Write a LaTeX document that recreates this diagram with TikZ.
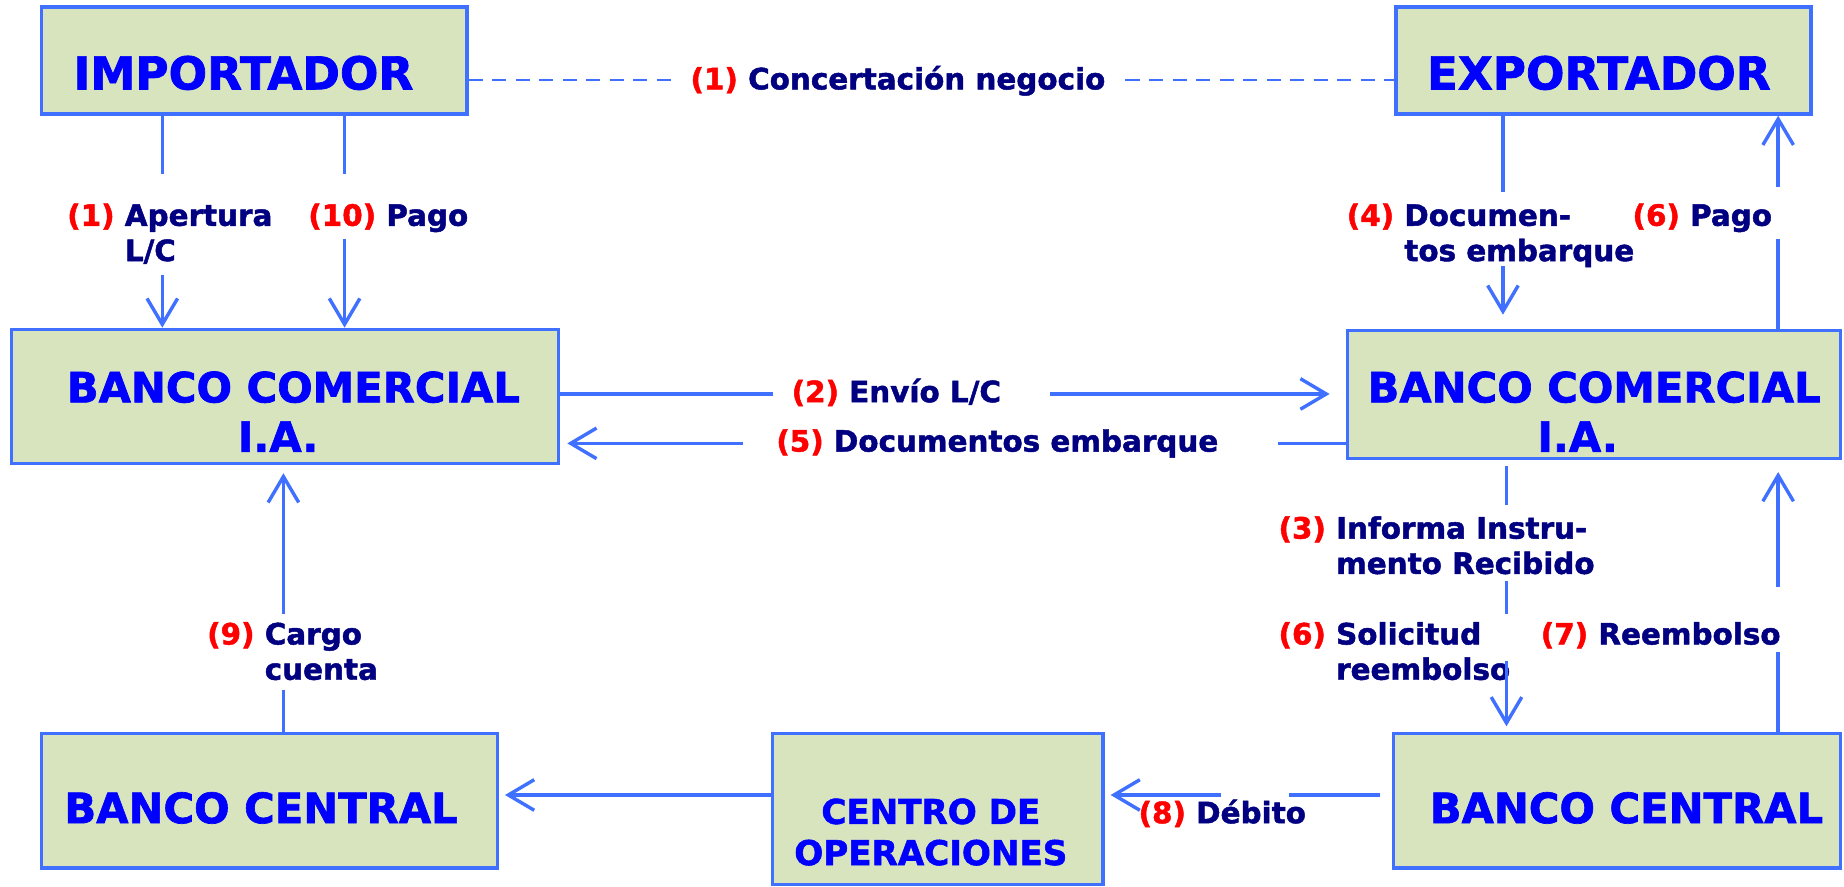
\documentclass[tikz,border=0pt]{standalone}
\usepackage{fontspec}
\setmainfont{DejaVu Sans}[BoldFeatures={FakeBold=1.6}]
\usetikzlibrary{arrows.meta}
\definecolor{azul}{RGB}{64,112,255}
\definecolor{verde}{RGB}{215,228,189}
\definecolor{puro}{RGB}{0,0,255}
\definecolor{marino}{RGB}{0,0,128}
\definecolor{nro}{RGB}{255,0,0}
\newcommand{\paso}[2]{\textcolor{nro}{(#1)} \begin{tabular}[t]{@{}l@{}}#2\end{tabular}}

\begin{document}
\begin{tikzpicture}[x=1pt,y=-1pt,
    caja/.style={draw=azul,line width=2.8pt,fill=verde,inner sep=0pt},
    nombre/.style={text=puro,align=center,inner sep=0pt,font=\fontsize{35.5}{42}\selectfont\bfseries},
    grande/.style={nombre,font=\fontsize{38.5}{42}\selectfont\bfseries},
    chico/.style={nombre,font=\fontsize{29}{35}\selectfont\bfseries},
    rotulo/.style={text=marino,anchor=base west,inner sep=0pt,font=\fontsize{25}{30}\selectfont\bfseries},
    linea/.style={draw=azul,line width=2.9pt},
    punteada/.style={linea,line width=2.4pt,dash pattern=on 12pt off 8pt},
    flecha/.style={linea,-{Straight Barb[length=22pt,width=26pt]}}]
    \useasboundingbox (0,0) rectangle (1568,754);

    \node[caja,minimum width=362pt,minimum height=91pt,label={[grande,xshift=-9pt,yshift=-10.5pt]center:IMPORTADOR}] (imp) at (216,51.5) {};
    \node[caja,minimum width=353pt,minimum height=91pt,label={[grande,xshift=-4pt,yshift=-10.5pt]center:EXPORTADOR}] (exp) at (1363.5,51.5) {};
    \node[caja,minimum width=465pt,minimum height=114pt,label={[nombre,xshift=7pt,yshift=-13pt]center:{BANCO COMERCIAL\\I.A.\hspace*{26pt}}}] (bci) at (242.5,337) {};
    \node[caja,minimum width=419pt,minimum height=109pt,label={[nombre,yshift=-14.5pt]center:{BANCO COMERCIAL\\I.A.\hspace*{28pt}}}] (bcr) at (1355.5,335.5) {};
    \node[caja,minimum width=388pt,minimum height=114pt,label={[nombre,xshift=-7pt,yshift=-6pt]center:BANCO CENTRAL}] (bcl) at (229,681) {};
    \node[caja,minimum width=281pt,minimum height=128pt,label={[chico,xshift=-6pt,yshift=-19.5pt]center:{CENTRO DE\\OPERACIONES}}] (cop) at (797.5,688) {};
    \node[caja,minimum width=380pt,minimum height=114pt,label={[nombre,xshift=8pt,yshift=-6pt]center:BANCO CENTRAL}] (bcd) at (1375,681) {};

    \node[rotulo] (r0) at (587,76) {\paso{1}{Concertación negocio}};
    \node[rotulo] (r1) at (57,192) {\paso{1}{Apertura\\L/C}};
    \node[rotulo] (r10) at (262,192) {\paso{10}{Pago}};
    \node[rotulo] (r4) at (1145,192) {\paso{4}{Documen-\\tos embarque}};
    \node[rotulo] (r6) at (1388,192) {\paso{6}{Pago}};
    \node[rotulo] (r2) at (673,342) {\paso{2}{Envío L/C}};
    \node[rotulo] (r5) at (660,384) {\paso{5}{Documentos embarque}};
    \node[rotulo] (r3) at (1087,458) {\paso{3}{Informa Instru-\\mento Recibido}};
    \node[rotulo] (r6b) at (1087,548) {\paso{6}{Solicitud\\reembolso}};
    \node[rotulo] (r7) at (1310,548) {\paso{7}{Reembolso}};
    \node[rotulo] (r9) at (176,548) {\paso{9}{Cargo\\cuenta}};
    \node[rotulo] (r8) at (968,700) {\paso{8}{Débito}};

    \coordinate (c0a) at (578,68);   \coordinate (c0b) at (957,68);
    \coordinate (c1a) at (138,148);  \coordinate (c1b) at (138,234);
    \coordinate (c10a) at (293,148); \coordinate (c10b) at (293,203);
    \coordinate (c4a) at (1278,163); \coordinate (c4b) at (1278,226);
    \coordinate (c6a) at (1512,203); \coordinate (c6b) at (1512,159);
    \coordinate (c2a) at (657,335);  \coordinate (c2b) at (893,335);
    \coordinate (c5a) at (1087,377); \coordinate (c5b) at (632,377);
    \coordinate (c3a) at (1281,429); \coordinate (c3b) at (1281,494);
    \coordinate (c3c) at (1281,522); \coordinate (c3d) at (1281,562);
    \coordinate (c7a) at (1512,554); \coordinate (c7b) at (1512,499);
    \coordinate (c8a) at (1096,676); \coordinate (c8b) at (1038,676);
    \coordinate (c9a) at (241,587);  \coordinate (c9b) at (241,522);

    \draw[punteada] (imp.east |- c0a) -- (c0a);
    \draw[punteada] (c0b) -- (exp.west |- c0b);
    \draw[linea] (imp.south -| c1a) -- (c1a);
    \draw[flecha] (c1b) -- (bci.north -| c1b);
    \draw[linea] (imp.south -| c10a) -- (c10a);
    \draw[flecha] (c10b) -- (bci.north -| c10b);
    \draw[linea] (exp.south -| c4a) -- (c4a);
    \draw[flecha,shorten >=12pt] (c4b) -- (bcr.north -| c4b);
    \draw[linea] (bcr.north -| c6a) -- (c6a);
    \draw[flecha] (c6b) -- (exp.south -| c6b);
    \draw[linea] (bci.east |- c2a) -- (c2a);
    \draw[flecha,shorten >=14pt] (c2b) -- (bcr.west |- c2b);
    \draw[linea] (bcr.west |- c5a) -- (c5a);
    \draw[flecha,shorten >=6pt] (c5b) -- (bci.east |- c5b);
    \draw[linea,shorten <=5pt] (bcr.south -| c3a) -- (c3a);
    \draw[linea] (c3b) -- (c3c);
    \draw[flecha,shorten >=5pt] (c3d) -- (bcd.north -| c3d);
    \draw[linea] (bcd.north -| c7a) -- (c7a);
    \draw[flecha,shorten >=10pt] (c7b) -- (bcr.south -| c7b);
    \draw[linea,shorten <=10pt] (bcd.west |- c8a) -- (c8a);
    \draw[flecha,shorten >=5pt] (c8b) -- (cop.east |- c8b);
    \draw[flecha,shorten >=5pt] (cop.west |- c8b) -- (bcl.east |- c8b);
    \draw[linea] (bcl.north -| c9a) -- (c9a);
    \draw[flecha,shorten >=7pt] (c9b) -- (bci.south -| c9b);
\end{tikzpicture}
\end{document}
